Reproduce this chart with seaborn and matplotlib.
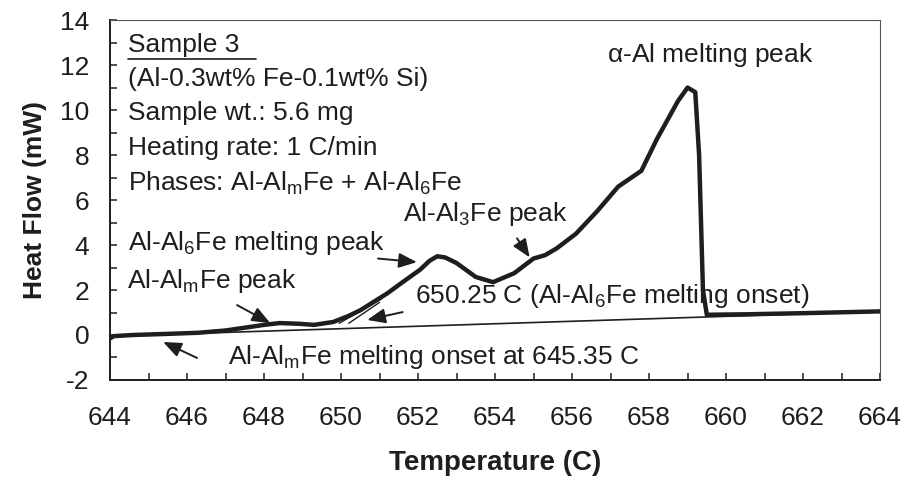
import matplotlib
matplotlib.use("Agg")
import matplotlib.pyplot as plt
import seaborn as sns
import pandas as pd
from matplotlib.ticker import MultipleLocator

# ---- data ----
temperature = [644.0, 644.1, 644.6, 645.5, 646.3, 647.0, 647.6, 648.0, 648.4, 648.9,
               649.3, 649.8, 650.2, 650.5, 651.2, 651.6, 652.05, 652.3, 652.5, 652.7,
               653.0, 653.5, 653.95, 654.5, 655.0, 655.3, 655.6, 656.1, 656.65, 657.2,
               657.8, 658.2, 658.75, 659.0, 659.2, 659.3, 659.4, 659.5, 660.5, 662.0, 664.0]
heat_flow = [-0.15, -0.05, 0.0, 0.05, 0.1, 0.2, 0.35, 0.45, 0.53, 0.5,
             0.45, 0.58, 0.85, 1.1, 1.85, 2.35, 2.9, 3.3, 3.5, 3.45,
             3.2, 2.58, 2.35, 2.75, 3.4, 3.55, 3.85, 4.5, 5.5, 6.6,
             7.3, 8.7, 10.4, 11.0, 10.8, 8.0, 2.0, 0.9, 0.92, 0.97, 1.05]
baseline_t = [644.0, 664.0]
baseline_h = [-0.05, 1.05]
tangent1_t = [649.95, 651.05]
tangent1_h = [0.52, 1.6]
tangent2_t = [650.2, 651.0]
tangent2_h = [0.52, 1.45]

info_lines = ["Sample 3", "(Al-0.3wt% Fe-0.1wt% Si)", "Sample wt.: 5.6 mg",
              "Heating rate: 1 C/min", "Phases: Al-Al$_\\mathregular{m}$Fe + Al-Al$_\\mathregular{6}$Fe"]

sns.set_style("ticks")
plt.rcParams["font.family"] = ["Liberation Sans", "DejaVu Sans"]
plt.rcParams["mathtext.default"] = "regular"
plt.rcParams["axes.unicode_minus"] = False

fig = plt.figure(figsize=(9.07, 4.83), dpi=100)
ax = fig.add_axes([0.1213, 0.2133, 0.849, 0.745])

ink = "#1e1e1e"
df = pd.DataFrame({"T": temperature, "H": heat_flow})
sns.lineplot(data=df, x="T", y="H", ax=ax, color=ink, lw=3.2, estimator=None, sort=False)
sns.lineplot(x=baseline_t, y=baseline_h, ax=ax, color=ink, lw=1.2, estimator=None)
sns.lineplot(x=tangent1_t, y=tangent1_h, ax=ax, color=ink, lw=1.0, estimator=None)
sns.lineplot(x=tangent2_t, y=tangent2_h, ax=ax, color=ink, lw=1.0, estimator=None)

ax.set_xlim(644, 664)
ax.set_ylim(-2, 14)
ax.xaxis.set_major_locator(MultipleLocator(2))
ax.xaxis.set_minor_locator(MultipleLocator(1))
ax.yaxis.set_major_locator(MultipleLocator(2))
ax.yaxis.set_minor_locator(MultipleLocator(1))
ax.tick_params(which="both", direction="in", length=5, width=1.1, colors=ink,
               labelsize=19, labelcolor=ink)
ax.tick_params(axis="x", which="major", pad=19)
ax.tick_params(axis="y", which="major", pad=15)
for s in ["left", "bottom"]:
    ax.spines[s].set_color(ink)
    ax.spines[s].set_linewidth(1.4)
for s in ["top", "right"]:
    ax.spines[s].set_color("#555555")
    ax.spines[s].set_linewidth(0.8)
ax.tick_params(top=False, right=False)

ax.set_xlabel("Temperature (C)", fontsize=20, fontweight="bold", color=ink, labelpad=14)
ax.set_ylabel("Heat Flow (mW)", fontsize=19, fontweight="bold", color=ink, labelpad=9)

fs = 19
ys = [12.9, 11.4, 9.87, 8.3, 6.75]
for i, (line, yv) in enumerate(zip(info_lines, ys)):
    ax.text(644.47, yv, line, fontsize=fs, color=ink, va="center", ha="left")
    if i == 0:
        ax.plot([644.47, 647.78], [12.25, 12.25], color=ink, lw=1.2)

ax.text(659.6, 12.45, r"$\alpha$-Al melting peak", fontsize=fs, color=ink, ha="center", va="center")

arrow = dict(arrowstyle="-|>,head_length=1.1,head_width=0.45", color=ink, lw=1.4, shrinkA=0, shrinkB=0)
ax.annotate("", xy=(654.9, 3.45), xytext=(654.57, 4.3), arrowprops=arrow)
ax.text(653.75, 5.4, "Al-Al$_\\mathregular{3}$Fe peak", fontsize=fs, color=ink, ha="center", va="center")

ax.annotate("", xy=(651.97, 3.24), xytext=(650.96, 3.4), arrowprops=arrow)
ax.text(644.47, 4.1, "Al-Al$_\\mathregular{6}$Fe melting peak", fontsize=fs, color=ink, ha="left", va="center")

ax.annotate("", xy=(648.16, 0.53), xytext=(647.3, 1.33), arrowprops=arrow)
ax.text(644.44, 2.4, "Al-Al$_\\mathregular{m}$Fe peak", fontsize=fs, color=ink, ha="left", va="center")

ax.annotate("", xy=(650.68, 0.67), xytext=(651.6, 1.02), arrowprops=arrow)
ax.text(651.92, 1.75, "650.25 C (Al-Al$_\\mathregular{6}$Fe melting onset)", fontsize=fs, color=ink, ha="left", va="center")

ax.annotate("", xy=(645.38, -0.31), xytext=(646.26, -1.02), arrowprops=arrow)
ax.text(647.06, -0.98, "Al-Al$_\\mathregular{m}$Fe melting onset at 645.35 C", fontsize=fs, color=ink, ha="left", va="center")

fig.savefig("out.png", dpi=100)
